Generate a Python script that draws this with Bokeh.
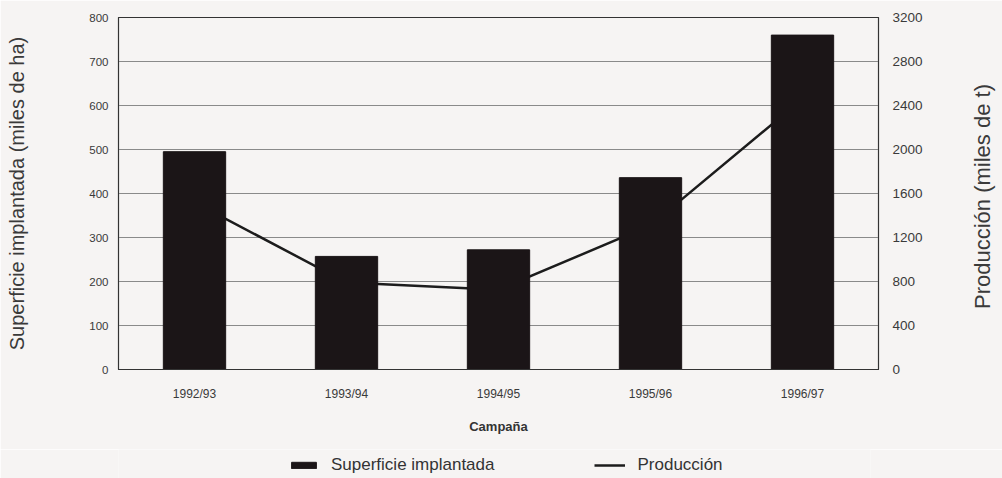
import math
from bokeh.plotting import figure
from bokeh.layouts import column
from bokeh.models import (Range1d, LinearAxis, FactorRange, Legend, LegendItem, SingleIntervalTicker,
                          FixedTicker, ColumnDataSource)
from bokeh.embed import file_html
from bokeh.resources import INLINE

campanas = ["1992/93", "1993/94", "1994/95", "1995/96", "1996/97"]
superficie = [495, 257, 272, 436, 760]
produccion = [1520, 790, 725, 1310, 2460]

BG = "#f6f4f3"
FONT = "Liberation Sans"
TITLE_R = "Producción (miles de t)"

src = ColumnDataSource(dict(c=campanas, s=superficie, p=produccion))

p = figure(x_range=FactorRange(*campanas, range_padding=0), y_range=Range1d(0, 800),
           frame_width=760, frame_height=352, output_backend="svg", toolbar_location=None,
           background_fill_color=BG, border_fill_color=BG)
p.min_border_left = 118
p.min_border_right = 124
p.min_border_top = 17
p.min_border_bottom = 80
p.outline_line_color = "#333333"
p.outline_line_width = 1.2

p.extra_y_ranges = {"prod": Range1d(0, 3200)}

line_r = p.line(x="c", y="p", source=src, y_range_name="prod", line_color="#1c1c1c", line_width=2.5)
bar_r = p.vbar(x="c", top="s", source=src, width=0.41, fill_color="#1b1517", line_color="#1b1517")

p.xgrid.grid_line_color = None
p.ygrid.grid_line_color = "#8a8a8a"
p.ygrid.grid_line_width = 1
p.yaxis.ticker = SingleIntervalTicker(interval=100)

right = LinearAxis(y_range_name="prod", ticker=SingleIntervalTicker(interval=400))
p.add_layout(right, "right")

for ax in [p.yaxis[0], right]:
    ax.major_tick_out = 0
    ax.major_tick_in = 0
    ax.minor_tick_out = 0
    ax.minor_tick_in = 0
    ax.axis_line_color = "#333333"
    ax.major_label_text_font = FONT
    ax.major_label_text_color = "#3a3a3a"
    ax.axis_label_text_font = FONT
    ax.axis_label_text_font_style = "normal"
    ax.axis_label_text_color = "#3a3a3a"

left = p.yaxis[0]
left.major_label_text_font_size = "11.5px"
left.axis_label = "Superficie implantada (miles de ha)"
left.axis_label_text_font_size = "20px"
left.major_label_standoff = 10
left.axis_label_standoff = 58

right.major_label_text_font_size = "13.5px"
right.major_label_standoff = 14

# title-only axis on the right: one rotated tick label reading bottom to top
rtitle = LinearAxis(y_range_name="prod", ticker=FixedTicker(ticks=[550]),
                    major_label_overrides={550: TITLE_R})
rtitle.axis_line_color = None
rtitle.major_tick_out = 0
rtitle.major_tick_in = 0
rtitle.minor_tick_out = 0
rtitle.minor_tick_in = 0
rtitle.major_label_orientation = math.pi / 2
rtitle.major_label_standoff = 57
rtitle.major_label_text_font = FONT
rtitle.major_label_text_font_size = "22px"
rtitle.major_label_text_color = "#3a3a3a"
p.add_layout(rtitle, "right")

xa = p.xaxis[0]
xa.axis_label = "Campaña"
xa.major_tick_out = 0
xa.major_tick_in = 0
xa.axis_line_color = "#333333"
xa.major_label_text_font = FONT
xa.major_label_text_font_size = "12px"
xa.major_label_text_color = "#3a3a3a"
xa.major_label_standoff = 17
xa.axis_label_text_font = FONT
xa.axis_label_text_font_size = "13px"
xa.axis_label_text_font_style = "bold"
xa.axis_label_text_color = "#333333"
xa.axis_label_standoff = 15

# legend strip below the chart; its proxy glyphs use the same data but fall outside its view
lf = figure(width=1002, height=29, x_range=FactorRange(*campanas), y_range=Range1d(5000, 6000),
            output_backend="svg", toolbar_location=None, min_border=0,
            x_axis_location=None, y_axis_location=None,
            background_fill_color=BG, border_fill_color=BG)
lf.outline_line_color = None
lf.grid.visible = False
lb = lf.vbar(x="c", top="s", source=src, width=0.41, fill_color="#1b1517", line_color="#1b1517")
ll = lf.line(x="c", y="p", source=src, line_color="#1c1c1c", line_width=2.5)

legend = Legend(items=[LegendItem(label="Superficie implantada", renderers=[lb]),
                       LegendItem(label="Producción", renderers=[ll])],
                orientation="horizontal", location=(170, 3),
                glyph_width=31, glyph_height=8, label_standoff=12, spacing=100,
                label_text_font=FONT, label_text_font_size="17px", label_text_color="#333333",
                border_line_color=None, background_fill_alpha=0, margin=0, padding=0)
lf.add_layout(legend)

layout = column(p, lf, spacing=0)
open("out.html", "w").write(file_html(layout, INLINE))
